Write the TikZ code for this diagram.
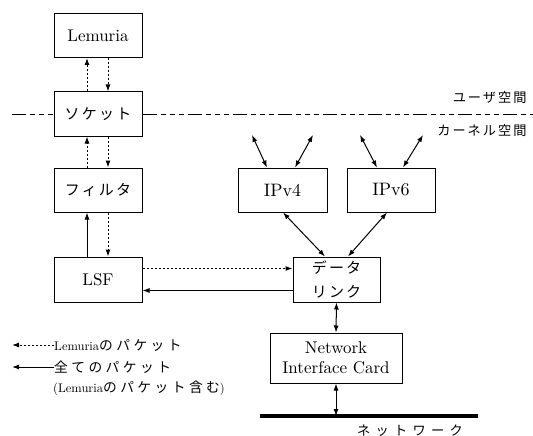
\documentclass[tikz,border=0pt]{standalone}
\usepackage{fontspec}
\setmainfont{lmroman10}[Extension=.otf,UprightFont=*-regular,BoldFont=*-bold]
\newfontfamily\jp[Scale=0.88,LetterSpace=15]{Noto Sans CJK JP}
\newfontfamily\jpl[Scale=1.1,LetterSpace=25]{Noto Sans CJK JP}
\usetikzlibrary{arrows.meta}
\tikzset{
	box/.style={draw,line width=1pt,minimum width=88pt,minimum height=44pt,inner sep=0pt,font=\fontsize{17}{20}\selectfont},
	pkt/.style={line width=1pt,dash pattern=on 2pt off 2pt,->},
	all/.style={line width=1pt,->},
	both/.style={line width=1pt,<->},
	space/.style={line width=1pt,dash pattern=on 14pt off 4pt on 5pt off 4pt on 5pt off 4pt on 5pt off 4pt},
	legend/.style={anchor=west,inner sep=0pt,font=\fontsize{12.5}{16}\selectfont},
	lbl/.style={font=\fontsize{15}{18}\selectfont\jp},
	>={Latex[length=7pt,width=5pt]}
}
\begin{document}
\begin{tikzpicture}[x=1pt,y=-1pt]
	\useasboundingbox (0,0) rectangle (533,436);
	\node[box] (lem) at (98,35.5) {Lemuria};
	\node[box] (sock) at (98,114) {\jp ソケット};
	\node[box] (filt) at (98,190) {\jp フィルタ};
	\node[box,minimum height=45pt] (lsf) at (98,279.5) {LSF};
	\node[box,minimum width=89pt,font=\fontsize{18}{20}\selectfont] (ipv4) at (282.5,190) {IPv4};
	\node[box,font=\fontsize{18}{20}\selectfont] (ipv6) at (391,190) {IPv6};
	\node[box,minimum width=87pt,minimum height=45pt,align=center,font=\fontsize{17}{24}\selectfont] (data) at (336.5,279.5) {\jp データ\\\jp リンク};
	\node[box,minimum width=132pt,minimum height=50pt,align=center] (nic) at (336,358) {Network\\Interface Card};
	\coordinate (netl) at (260,416);
	\coordinate (netr) at (478,416);
	\coordinate (net) at (336,416);
	\draw[line width=4pt] (netl) -- (netr);
	\node[lbl] (netlab) at (410,431) {\addfontfeature{LetterSpace=40}ネットワーク};
	\coordinate (spl) at (12,114);
	\coordinate (spr) at (533,114);
	\draw[space] (spl) -- (sock.west);
	\draw[space] (sock.east) -- (spr);
	\node[lbl,anchor=east] (user) at (530,97) {ユーザ空間};
	\node[lbl,anchor=east] (kern) at (530,130) {カーネル空間};
	\draw[pkt] ([xshift=-11pt]sock.north) -- ([xshift=-11pt]lem.south);
	\draw[pkt] ([xshift=10pt]lem.south) -- ([xshift=10pt]sock.north);
	\draw[pkt] ([xshift=-11pt]filt.north) -- ([xshift=-11pt]sock.south);
	\draw[pkt] ([xshift=10pt]sock.south) -- ([xshift=10pt]filt.north);
	\draw[all] ([xshift=-11pt]lsf.north) -- ([xshift=-11pt]filt.south);
	\draw[pkt] ([xshift=10pt]filt.south) -- ([xshift=10pt]lsf.north);
	\draw[pkt] ([yshift=11pt]lsf.east) -- ([yshift=11pt]data.west);
	\draw[all] ([yshift=-11pt]data.west) -- ([yshift=-11pt]lsf.east);
	\coordinate (a4l) at (252,135);
	\coordinate (a4r) at (313,135);
	\coordinate (a6l) at (360,135);
	\coordinate (a6r) at (423,135);
	\draw[both] (a4l) -- ([xshift=-15.5pt]ipv4.north);
	\draw[both] (a4r) -- ([xshift=12.5pt]ipv4.north);
	\draw[both] (a6l) -- ([xshift=-14pt]ipv6.north);
	\draw[both] (a6r) -- ([xshift=12pt]ipv6.north);
	\draw[both] ([xshift=0.5pt]ipv4.south) -- ([xshift=-11.5pt]data.north);
	\draw[both] ([xshift=-4pt]ipv6.south) -- ([xshift=11.5pt]data.north);
	\draw[both] (data.south) -- (nic.north);
	\draw[both] (nic.south) -- (net);
	\node[legend] (lg1) at (54,345) {Lemuria{\jpl のパケット}};
	\node[legend] (lg2) at (54,367) {\jpl 全てのパケット};
	\node[legend] (lg3) at (53,388) {(Lemuria{\jpl のパケット含む})};
	\coordinate (lg1a) at (12,345);
	\coordinate (lg2a) at (12,367);
	\draw[pkt] (lg1.west) -- (lg1a);
	\draw[all] (lg2.west) -- (lg2a);
\end{tikzpicture}
\end{document}
